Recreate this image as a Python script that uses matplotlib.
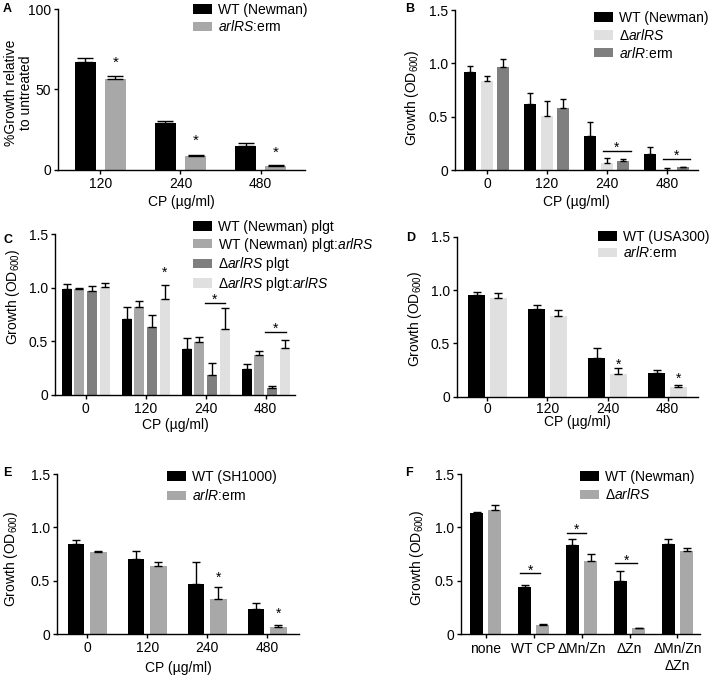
import numpy as np
import matplotlib
matplotlib.use("Agg")
import matplotlib.pyplot as plt

plt.rcParams['font.family'] = ['Liberation Sans', 'DejaVu Sans']
plt.rcParams['font.size'] = 10
plt.rcParams['mathtext.fontset'] = 'custom'
plt.rcParams['mathtext.rm'] = 'Liberation Sans'
plt.rcParams['mathtext.it'] = 'Liberation Sans:italic'
plt.rcParams['mathtext.default'] = 'regular'

# ---- data ----
conc = ['120', '240', '480']
conc4 = ['0', '120', '240', '480']
cond = ['none', 'WT CP', 'ΔMn/Zn', 'ΔZn', 'ΔMn/Zn\nΔZn']

# A: % growth relative to untreated
a_wt = [67.4, 29.3, 15.0]
a_wt_err = [2.0, 0.8, 1.8]
a_erm = [56.5, 8.5, 2.5]
a_erm_err = [1.7, 0.9, 0.4]
a_stars = [69, 20.6, 12.9]

# B
b_wt = [0.923, 0.617, 0.321, 0.156]
b_wt_err = [0.057, 0.11, 0.134, 0.062]
b_del = [0.836, 0.505, 0.069, 0.006]
b_del_err = [0.043, 0.144, 0.049, 0.019]
b_erm = [0.97, 0.586, 0.084, 0.028]
b_erm_err = [0.075, 0.081, 0.025, 0.006]

# C
c_wt = [0.984, 0.704, 0.427, 0.243]
c_wt_err = [0.047, 0.115, 0.103, 0.047]
c_wt_comp = [0.988, 0.819, 0.492, 0.374]
c_wt_comp_err = [0.006, 0.053, 0.053, 0.034]
c_del = [0.966, 0.632, 0.19, 0.062]
c_del_err = [0.05, 0.109, 0.112, 0.022]
c_del_comp = [1.006, 0.897, 0.614, 0.439]
c_del_comp_err = [0.034, 0.131, 0.193, 0.078]

# D
d_wt = [0.956, 0.822, 0.366, 0.222]
d_wt_err = [0.025, 0.04, 0.093, 0.025]
d_erm = [0.928, 0.756, 0.209, 0.0875]
d_erm_err = [0.044, 0.056, 0.057, 0.019]

# E
e_wt = [0.844, 0.70, 0.466, 0.2375]
e_wt_err = [0.04, 0.075, 0.212, 0.05]
e_erm = [0.766, 0.64, 0.328, 0.0625]
e_erm_err = [0.015, 0.032, 0.116, 0.019]

# F
f_wt = [1.134, 0.444, 0.834, 0.497, 0.84]
f_wt_err = [0.006, 0.019, 0.053, 0.093, 0.054]
f_del = [1.162, 0.0875, 0.684, 0.056, 0.778]
f_del_err = [0.047, 0.01, 0.069, 0.003, 0.031]

BLACK = '#000000'
GRAY = '#a8a8a8'
LIGHT = '#e0e0e0'
DARK = '#7f7f7f'

FS = 10
W, H = 710, 678
fig = plt.figure(figsize=(W / 100, H / 100), dpi=100)


def make_axes(x0, x1, y0, ytop):
    ax = fig.add_axes([x0 / W, (H - y0) / H, (x1 - x0) / W, (y0 - ytop) / H])
    for s in ['top', 'right']:
        ax.spines[s].set_visible(False)
    for s in ['left', 'bottom']:
        ax.spines[s].set_linewidth(1.0)
    ax.tick_params(direction='out', length=3, width=1.0, pad=2, labelsize=FS)
    return ax


def bars(ax, vals, errs, colors, labels, width, step, capsize):
    n = len(vals)
    groups = np.arange(len(vals[0]))
    for i in range(n):
        off = (i - (n - 1) / 2) * step
        ax.bar(groups + off, vals[i], width, color=colors[i], label=labels[i],
               linewidth=0, zorder=2)
        ax.errorbar(groups + off, vals[i], yerr=[np.zeros(len(errs[i])), errs[i]],
                    fmt='none', ecolor='black', elinewidth=1.0, capsize=capsize,
                    capthick=1.0, zorder=3)


def sig(ax, g, a, b, yline, ystar):
    ax.plot([g + a, g + b], [yline, yline], color='black', lw=1.0, zorder=4)
    ax.annotate('*', xy=(g + (a + b) / 2, ystar), xytext=(0, -3),
                textcoords='offset points', ha='center', va='center', fontsize=FS)


def star(ax, x, y, size=FS):
    ax.annotate('*', xy=(x, y), xytext=(0, -3), textcoords='offset points',
                ha='center', va='center', fontsize=size)


def legend(ax, x, y, spacing=0.3):
    ax.legend(loc='upper left', bbox_to_anchor=(x / W, 1 - y / H),
              bbox_transform=fig.transFigure, frameon=False, borderpad=0,
              handlelength=1.4, handleheight=0.65, handletextpad=0.4,
              labelspacing=spacing, fontsize=FS, borderaxespad=0)


def od_axis(ax, xlim, xl_y, yl_x, yl_y, ticks):
    ax.set_ylim(0, 1.5)
    ax.set_yticks([0, 0.5, 1.0, 1.5])
    ax.set_yticklabels(['0', '0.5', '1.0', '1.5'])
    ax.set_xlim(*xlim)
    ax.set_xticks(np.arange(len(ticks)))
    ax.set_xticklabels(ticks)
    ax.text(yl_x, yl_y, 'Growth (OD$_{600}$)', transform=ax.transAxes,
            rotation=90, ha='center', va='center', fontsize=FS)
    if xl_y is not None:
        ax.text(0.5, xl_y, 'CP (µg/ml)', transform=ax.transAxes,
                ha='center', va='center', fontsize=FS)


# ---- A ----
axA = make_axes(58, 305, 169.7, 9.3)
bars(axA, [a_wt, a_erm], [a_wt_err, a_erm_err], [BLACK, GRAY],
     ['WT (Newman)', r'$\mathit{arlRS}$:erm'], 0.2625, 0.375, 6)
axA.set_ylim(0, 100)
axA.set_yticks([0, 50, 100])
axA.set_xlim(-0.531, 2.556)
axA.set_xticks(np.arange(len(conc)))
axA.set_xticklabels(conc)
for i, s in enumerate(a_stars):
    star(axA, i + 0.1875, s, 11)
axA.text(-0.16, 0.48, '%Growth relative\nto untreated', transform=axA.transAxes,
         rotation=90, ha='center', va='center', fontsize=FS, linespacing=1.05)
axA.text(0.5, -0.20, 'CP (µg/ml)', transform=axA.transAxes, ha='center', va='center')
legend(axA, 193, 3, 0.15)

# ---- B ----
axB = make_axes(455, 698, 170.3, 10)
bars(axB, [b_wt, b_del, b_erm], [b_wt_err, b_del_err, b_erm_err],
     [BLACK, LIGHT, DARK],
     ['WT (Newman)', r'Δ$\mathit{arlRS}$', r'$\mathit{arlR}$:erm'], 0.2, 0.275, 2.5)
od_axis(axB, (-0.533, 3.517), -0.198, -0.175, 0.45, conc4)
sig(axB, 2, -0.067, 0.4, 0.181, 0.25)
sig(axB, 3, -0.067, 0.39, 0.103, 0.178)
legend(axB, 594, 11, 0.2)

# ---- C ----
axC = make_axes(55, 295, 395, 234)
bars(axC, [c_wt, c_wt_comp, c_del, c_del_comp],
     [c_wt_err, c_wt_comp_err, c_del_err, c_del_comp_err],
     [BLACK, GRAY, DARK, LIGHT],
     ['WT (Newman) plgt', r'WT (Newman) plgt:$\mathit{arlRS}$',
      r'Δ$\mathit{arlRS}$ plgt', r'Δ$\mathit{arlRS}$ plgt:$\mathit{arlRS}$'],
     0.167, 0.213, 3)
od_axis(axC, (-0.512, 3.488), -0.186, -0.175, 0.61, conc4)
star(axC, 1 + 0.32, 1.18)
sig(axC, 2, -0.02, 0.32, 0.857, 0.93)
sig(axC, 3, -0.02, 0.33, 0.586, 0.66)
legend(axC, 193, 220, 0.12)

# ---- D ----
axD = make_axes(457, 698, 396.7, 236.7)
bars(axD, [d_wt, d_erm], [d_wt_err, d_erm_err], [BLACK, LIGHT],
     ['WT (USA300)', r'$\mathit{arlR}$:erm'], 0.278, 0.36, 3)
od_axis(axD, (-0.508, 3.508), -0.16, -0.176, 0.49, conc4)
axD.tick_params(axis='x', pad=1)
star(axD, 2 + 0.18, 0.34)
star(axD, 3 + 0.18, 0.21)
legend(axD, 598, 230, 0.1)

# ---- E ----
axE = make_axes(57, 299, 634, 474)
bars(axE, [e_wt, e_erm], [e_wt_err, e_erm_err], [BLACK, GRAY],
     ['WT (SH1000)', r'$\mathit{arlR}$:erm'], 0.278, 0.372, 3)
od_axis(axE, (-0.503, 3.53), -0.21, -0.19, 0.47, conc4)
star(axE, 2 + 0.19, 0.57)
star(axE, 3 + 0.19, 0.225)
legend(axE, 167, 470, 0.3)

# ---- F ----
axF = make_axes(461, 700, 634, 474)
bars(axF, [f_wt, f_del], [f_wt_err, f_del_err], [BLACK, GRAY],
     ['WT (Newman)', r'Δ$\mathit{arlRS}$'], 0.278, 0.38, 3)
od_axis(axF, (-0.515, 4.47), None, -0.186, 0.475, cond)
axF.tick_params(axis='x', pad=3)
sig(axF, 1, -0.28, 0.135, 0.575, 0.63)
sig(axF, 2, -0.31, 0.10, 0.95, 1.02)
sig(axF, 3, -0.30, 0.16, 0.6625, 0.725)
legend(axF, 580, 470, 0.25)

# panel letters
for lab, x, y in [('A', 7, 9), ('B', 410, 9), ('C', 8, 240),
                  ('D', 411, 238), ('E', 7, 473), ('F', 409, 473)]:
    fig.text(x / W, 1 - y / H, lab, ha='center', va='center',
             fontsize=9, fontweight='bold')

fig.savefig('out.png', dpi=100)
